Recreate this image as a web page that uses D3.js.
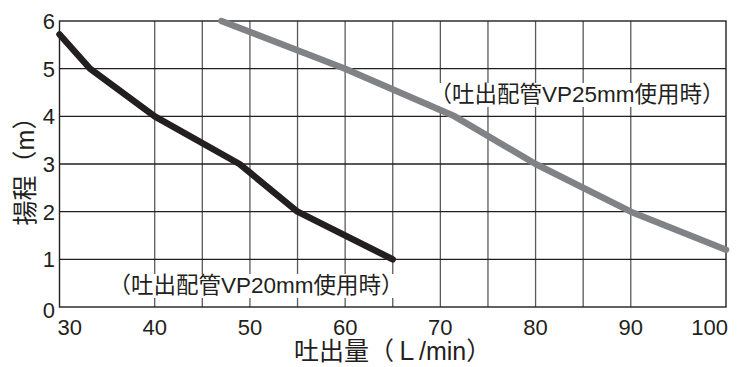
<!DOCTYPE html>
<html>
<head>
<meta charset="utf-8">
<script src="https://cdn.jsdelivr.net/npm/d3@7"></script>
<style>
  body { margin: 0; background: #fff; }
  text { font-family: "Liberation Sans", Arial, "Noto Sans CJK JP", sans-serif; fill: #231f20; }
</style>
</head>
<body>
<svg width="747" height="367"></svg>
<script>
// 揚程曲線のデータ
const vp20Flow = [30, 33.2, 40, 48.9, 55, 65];
const vp20Head = [5.72, 5.0, 4.0, 3.0, 2.0, 1.0];
const vp25Flow = [47, 60, 71.5, 80, 90, 100];
const vp25Head = [6.0, 5.0, 4.0, 3.0, 2.0, 1.2];

const xTicks = [30, 40, 50, 60, 70, 80, 90, 100];
const yTicks = [0, 1, 2, 3, 4, 5, 6];
const xGrid = [40, 45, 50, 55, 60, 65, 70, 75, 80, 85, 90];
const yGrid = [1, 2, 3, 4, 5];

let svg = d3.select("svg");
let pLeft = 59.5, pRight = 726, pTop = 21, pBottom = 307;

let x = d3.scaleLinear().domain([30, 100]).range([pLeft, pRight]);
let y = d3.scaleLinear().domain([0, 6]).range([pBottom, pTop]);

let grid = svg.append("g");

grid.selectAll("line.v")
    .data(xGrid)
    .enter().append("line")
    .attr("x1", d => x(d)).attr("x2", d => x(d))
    .attr("y1", pTop).attr("y2", pBottom)
    .attr("stroke", "#5a5a5c")
    .attr("stroke-width", 1.3);

grid.selectAll("line.h")
    .data(yGrid)
    .enter().append("line")
    .attr("x1", pLeft).attr("x2", pRight)
    .attr("y1", d => y(d)).attr("y2", d => y(d))
    .attr("stroke", "#231f20")
    .attr("stroke-width", 1.3);

grid.append("rect")
    .attr("x", pLeft).attr("y", pTop)
    .attr("width", pRight - pLeft).attr("height", pBottom - pTop)
    .attr("fill", "none")
    .attr("stroke", "#231f20")
    .attr("stroke-width", 1.4);

// 注記ラベル（白地で格子を隠す）
function note(tx, ty, str) {
    let g = svg.append("g");
    let t = g.append("text")
        .attr("x", tx).attr("y", ty)
        .attr("font-size", 22.5)
        .text(str);
    let b = t.node().getBBox();
    g.insert("rect", "text")
        .attr("x", b.x + 4).attr("y", b.y + 1)
        .attr("width", b.width - 6).attr("height", b.height - 1)
        .attr("fill", "#fff");
}
note(108.5, 293, "（吐出配管VP20mm使用時）");
note(429.5, 102, "（吐出配管VP25mm使用時）");

let line = d3.line()
    .x(d => x(d[0]))
    .y(d => y(d[1]));

svg.append("path")
    .datum(d3.zip(vp25Flow, vp25Head))
    .attr("d", line)
    .attr("fill", "none")
    .attr("stroke", "#808285")
    .attr("stroke-width", 6.5)
    .attr("stroke-linecap", "round")
    .attr("stroke-linejoin", "round");

svg.append("path")
    .datum(d3.zip(vp20Flow, vp20Head))
    .attr("d", line)
    .attr("fill", "none")
    .attr("stroke", "#231f20")
    .attr("stroke-width", 6.5)
    .attr("stroke-linecap", "round")
    .attr("stroke-linejoin", "round");

// 目盛り
svg.selectAll("text.xt")
    .data(xTicks)
    .enter().append("text")
    .attr("x", d => d === 30 ? pLeft - 2 : d === 100 ? pRight + 2 : x(d))
    .attr("y", 335)
    .attr("font-size", 22)
    .attr("text-anchor", d => d === 30 ? "start" : d === 100 ? "end" : "middle")
    .text(d => d);

svg.selectAll("text.yt")
    .data(yTicks)
    .enter().append("text")
    .attr("x", 55)
    .attr("y", d => y(d) + 8 + (d === 0 ? 3 : 0))
    .attr("font-size", 22)
    .attr("text-anchor", "end")
    .text(d => d);

// 軸タイトル
svg.append("text")
    .attr("x", 294).attr("y", 360)
    .attr("font-size", 25)
    .text("吐出量（Ｌ/min）");

svg.append("text")
    .attr("transform", "translate(34,165) rotate(-90)")
    .attr("font-size", 25)
    .attr("text-anchor", "middle")
    .text("揚程（m）");
</script>
</body>
</html>
